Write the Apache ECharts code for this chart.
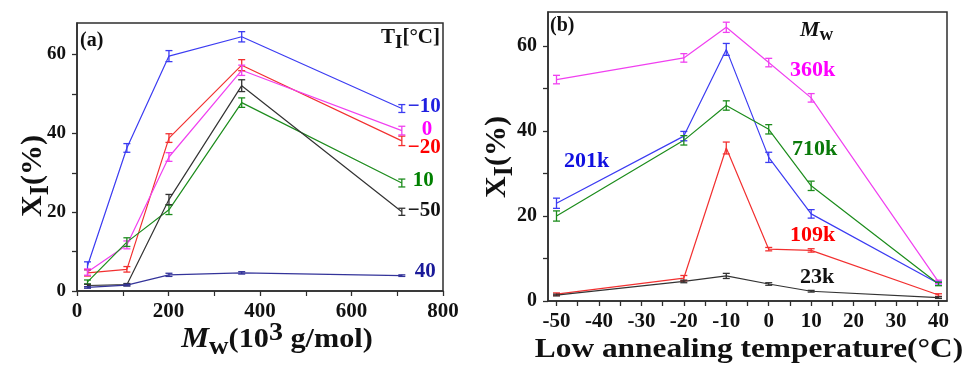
<!DOCTYPE html>
<html lang="en">
<head>
<meta charset="UTF-8">
<title>XI vs Mw and annealing temperature</title>
<script src="https://cdn.jsdelivr.net/npm/echarts@6/dist/echarts.min.js"></script>
<style>
html,body{margin:0;padding:0;background:#fff;}
#chartBox{width:973px;height:365px;}
</style>
</head>
<body>
<div id="chartBox"></div>
<script>
// ---- panel (a): XI vs Mw (10^3 g/mol), one line per low annealing temperature
const mwValues = [23, 109, 201, 360, 710];
const aMinus10 = [6.4, 36.3, 59.6, 64.5, 46.3];
const aMinus20 = [4.6, 5.5, 38.8, 57.3, 38.1];
const aZero    = [4.8, 11.7, 34.0, 56.0, 40.7];
const aTen     = [2.3, 12.4, 20.6, 47.8, 27.4];
const aMinus50 = [1.4, 1.6, 23.2, 52.1, 20.1];
const aForty   = [0.9, 1.5, 4.1, 4.6, 3.9];
const errMinus10 = [1.0, 1.1, 1.4, 1.3, 1.0];
const errMinus20 = [0.8, 0.7, 1.1, 1.4, 1.2];
const errZero    = [0.8, 1.0, 1.1, 1.3, 1.1];
const errTen     = [0.5, 1.1, 1.2, 1.2, 1.0];
const errMinus50 = [0.3, 0.3, 1.3, 1.5, 0.9];
const errForty   = [0.2, 0.2, 0.4, 0.3, 0.2];
const aLabels = ['\u221210', '\u221220', '0', '10', '\u221250', '40'];

// ---- panel (b): XI vs low annealing temperature, one line per Mw
const tempValues = [-50, -20, -10, 0, 10, 40];
const b360k = [52.1, 57.2, 64.4, 56.1, 47.8, 4.5];
const b201k = [23.0, 38.8, 59.2, 33.8, 20.5, 4.1];
const b710k = [20.0, 37.8, 46.0, 40.4, 27.1, 4.0];
const b109k = [1.6, 5.4, 36.0, 12.2, 11.9, 1.4];
const b23k  = [1.4, 4.6, 5.9, 4.0, 2.3, 0.8];
const err360k = [1.0, 1.0, 1.2, 1.0, 1.0, 0.4];
const err201k = [1.2, 1.1, 1.4, 1.2, 1.0, 0.4];
const err710k = [1.2, 1.1, 1.1, 1.1, 1.1, 0.4];
const err109k = [0.3, 0.6, 1.4, 0.4, 0.4, 0.3];
const err23k  = [0.2, 0.3, 0.6, 0.3, 0.2, 0.2];
const bLabels = ['360k', '201k', '710k', '109k', '23k'];

const yLabelValues = [0, 20, 40, 60];
const yTickValues = [0, 10, 20, 30, 40, 50, 60];
const tLabelValues = [-50, -40, -30, -20, -10, 0, 10, 20, 30, 40];
const tTickValues = [-50, -45, -40, -35, -30, -25, -20, -15, -10, -5, 0, 5, 10, 15, 20, 25, 30, 35, 40];

const FONT = '"Liberation Serif", "Times New Roman", serif';
const AXIS_COLOR = '#2e2e2e';

// 误差棒
function errorBarItem(params, api) {
    let x = api.value(0), y = api.value(1), e = api.value(2);
    let hi = api.coord([x, y + e]);
    let lo = api.coord([x, y - e]);
    let cap = 3.5;
    let style = {stroke: api.visual('color'), lineWidth: 1.3};
    return {
        type: 'group',
        children: [
            {type: 'line', shape: {x1: hi[0], y1: hi[1], x2: lo[0], y2: lo[1]}, style: style},
            {type: 'line', shape: {x1: hi[0] - cap, y1: hi[1], x2: hi[0] + cap, y2: hi[1]}, style: style},
            {type: 'line', shape: {x1: lo[0] - cap, y1: lo[1], x2: lo[0] + cap, y2: lo[1]}, style: style}
        ]
    };
}

function pairs(xs, ys) {
    return xs.map((x, i) => [x, ys[i]]);
}
function triples(xs, ys, es) {
    return xs.map((x, i) => [x, ys[i], es[i]]);
}

function lineWithErrors(xs, ys, es, color, xIdx, yIdx, endLabel) {
    let line = {
        type: 'line',
        xAxisIndex: xIdx,
        yAxisIndex: yIdx,
        symbol: 'none',
        lineStyle: {width: 1.2, color: color},
        itemStyle: {color: color},
        z: 3,
        data: pairs(xs, ys)
    };
    if (endLabel) line.endLabel = endLabel;
    let bars = {
        type: 'custom',
        xAxisIndex: xIdx,
        yAxisIndex: yIdx,
        itemStyle: {color: color},
        renderItem: errorBarItem,
        z: 4,
        data: triples(xs, ys, es)
    };
    return [line, bars];
}

function endLab(text, color, distance, dy) {
    return {
        show: true,
        formatter: text,
        color: color,
        fontFamily: FONT,
        fontWeight: 'bold',
        fontSize: 21,
        distance: distance,
        offset: [0, dy]
    };
}

let series = [].concat(
    lineWithErrors(mwValues, aMinus10, errMinus10, '#3c3cf2', 0, 0, endLab(aLabels[0], '#1f1fe0', 6, -2)),
    lineWithErrors(mwValues, aMinus20, errMinus20, '#f23030', 0, 0, endLab(aLabels[1], '#ff0000', 6, 7)),
    lineWithErrors(mwValues, aZero, errZero, '#f040f0', 0, 0, endLab(aLabels[2], '#ff00ff', 20, -1)),
    lineWithErrors(mwValues, aTen, errTen, '#1c8c1c', 0, 0, endLab(aLabels[3], '#008000', 11, -2)),
    lineWithErrors(mwValues, aMinus50, errMinus50, '#333333', 0, 0, endLab(aLabels[4], '#111111', 6, -1)),
    lineWithErrors(mwValues, aForty, errForty, '#34349a', 0, 0, endLab(aLabels[5], '#1a1a99', 13, -4)),
    lineWithErrors(tempValues, b360k, err360k, '#f040f0', 1, 1, null),
    lineWithErrors(tempValues, b201k, err201k, '#3c3cf2', 1, 1, null),
    lineWithErrors(tempValues, b710k, err710k, '#1c8c1c', 1, 1, null),
    lineWithErrors(tempValues, b109k, err109k, '#f23030', 1, 1, null),
    lineWithErrors(tempValues, b23k, err23k, '#333333', 1, 1, null)
);

function tickLabel(size, margin, values) {
    let lab = {color: '#111', fontFamily: FONT, fontWeight: 'bold', fontSize: size, margin: margin};
    if (values) lab.customValues = values;
    return lab;
}

function axisBase(gridIndex, min, max, tickValues) {
    let tick = {show: true, inside: false, length: 5, lineStyle: {color: AXIS_COLOR, width: 1.3}};
    if (tickValues) tick.customValues = tickValues;
    return {
        type: 'value',
        gridIndex: gridIndex,
        min: min,
        max: max,
        axisLine: {show: true, onZero: false, lineStyle: {color: AXIS_COLOR, width: 1.5}},
        axisTick: tick,
        splitLine: {show: false}
    };
}

let xAxes = [
    Object.assign(axisBase(0, 0, 800, null), {
        interval: 200,
        axisLabel: tickLabel(21, 10, null),
        minorTick: {show: true, splitNumber: 2, length: 5, lineStyle: {color: AXIS_COLOR, width: 1.2}}
    }),
    Object.assign(axisBase(1, -52, 42, tTickValues), {
        axisLabel: tickLabel(21, 10, tLabelValues)
    })
];

let yAxes = [
    Object.assign(axisBase(0, 0, 68, yTickValues), {
        axisLabel: tickLabel(19, 11, yLabelValues)
    }),
    Object.assign(axisBase(1, 0, 68, yTickValues), {
        axisLabel: tickLabel(20, 11, yLabelValues)
    })
];

function txt(x, y, text, size, color) {
    return {
        type: 'text', x: x, y: y, z: 10,
        style: {text: text, fontFamily: FONT, fontWeight: 'bold', fontSize: size,
            fill: color, align: 'left', verticalAlign: 'middle'}
    };
}

// X_I(%) 纵轴标题
function yTitle(x, y) {
    return {
        type: 'text', x: x, y: y, rotation: Math.PI / 2, z: 10,
        style: {
            text: '{b|X}{s|I}{b|(%)}',
            align: 'center', verticalAlign: 'middle',
            rich: {
                b: {fontFamily: FONT, fontWeight: 'bold', fontSize: 30, lineHeight: 44, verticalAlign: 'middle', fill: '#111'},
                s: {fontFamily: FONT, fontWeight: 'bold', fontSize: 27, lineHeight: 22, verticalAlign: 'bottom', fill: '#111'}
            }
        }
    };
}

let graphic = [
    txt(80, 41, '(a)', 20, '#111'),
    {
        type: 'text', x: 440, y: 38, z: 10,
        style: {
            text: '{n|T}{s|I}{n|[\u00b0C]}', align: 'right', verticalAlign: 'middle',
            rich: {
                n: {fontFamily: FONT, fontWeight: 'bold', fontSize: 21, lineHeight: 30, verticalAlign: 'middle', fill: '#111'},
                s: {fontFamily: FONT, fontWeight: 'bold', fontSize: 19, lineHeight: 16, verticalAlign: 'bottom', fill: '#111'}
            }
        }
    },
    {
        type: 'text', x: 277, y: 340, z: 10, scaleX: 1.08,
        style: {
            text: '{i|M}{s|w}{n|(10}{p|3}{n| g/mol)}', align: 'center', verticalAlign: 'middle',
            rich: {
                i: {fontFamily: FONT, fontWeight: 'bold', fontStyle: 'italic', fontSize: 29, lineHeight: 40, verticalAlign: 'middle', fill: '#111'},
                n: {fontFamily: FONT, fontWeight: 'bold', fontSize: 28, lineHeight: 40, verticalAlign: 'middle', fill: '#111'},
                s: {fontFamily: FONT, fontWeight: 'bold', fontSize: 25, lineHeight: 12, verticalAlign: 'bottom', fill: '#111'},
                p: {fontFamily: FONT, fontWeight: 'bold', fontSize: 26, lineHeight: 34, verticalAlign: 'top', fill: '#111'}
            }
        }
    },
    yTitle(33, 176),
    txt(550, 26, '(b)', 20, '#111'),
    {
        type: 'text', x: 800, y: 30, z: 10,
        style: {
            text: '{i|M}{s|w}', align: 'left', verticalAlign: 'middle',
            rich: {
                i: {fontFamily: FONT, fontWeight: 'bold', fontStyle: 'italic', fontSize: 22, lineHeight: 30, verticalAlign: 'middle', fill: '#111'},
                s: {fontFamily: FONT, fontWeight: 'bold', fontSize: 19, lineHeight: 14, verticalAlign: 'bottom', fill: '#111'}
            }
        }
    },
    txt(790, 70, bLabels[0], 22, '#ff00ff'),
    txt(564, 161, bLabels[1], 22, '#1010e0'),
    txt(792, 149, bLabels[2], 22, '#0a7a0a'),
    txt(790, 235, bLabels[3], 22, '#ff0000'),
    txt(800, 277, bLabels[4], 22, '#111'),
    yTitle(497, 157),
    {
        type: 'text', x: 749, y: 350, z: 10, scaleX: 1.12,
        style: {text: 'Low annealing temperature(\u00b0C)', fontFamily: FONT, fontWeight: 'bold', fontSize: 28,
            fill: '#111', align: 'center', verticalAlign: 'middle'}
    }
];

let option = {
    animation: false,
    backgroundColor: '#fff',
    grid: [
        {left: 77, top: 23, width: 366, height: 268, show: true, borderColor: AXIS_COLOR, borderWidth: 1.5, backgroundColor: 'transparent'},
        {left: 548, top: 12, width: 399, height: 289, show: true, borderColor: AXIS_COLOR, borderWidth: 1.5, backgroundColor: 'transparent'}
    ],
    xAxis: xAxes,
    yAxis: yAxes,
    series: series,
    graphic: graphic
};

let chartObj = echarts.init(document.getElementById('chartBox'), null, {renderer: 'canvas'});
chartObj.setOption(option);
</script>
</body>
</html>
